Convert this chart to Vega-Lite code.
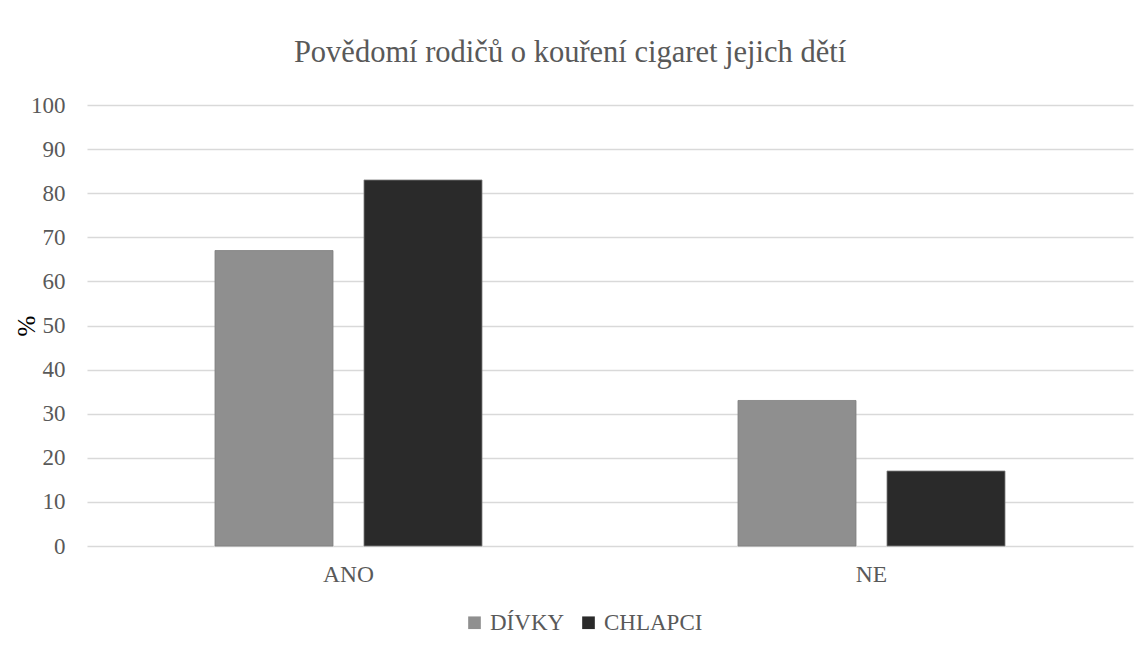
{
  "$schema": "https://vega.github.io/schema/vega-lite/v6.json",
  "autosize": {"type": "none"},
  "padding": {"left": 87, "top": 105, "right": 10, "bottom": 105},
  "width": 1046,
  "height": 441,
  "background": "#ffffff",
  "title": {
    "text": "Povědomí rodičů o kouření cigaret jejich dětí",
    "anchor": "middle",
    "dx": -40,
    "offset": 26,
    "font": "Liberation Serif",
    "fontSize": 30.5,
    "fontWeight": "normal",
    "color": "#595959"
  },
  "data": {
    "values": [
      {"odpoved": "ANO", "pohlavi": "DÍVKY", "procento": 67},
      {"odpoved": "ANO", "pohlavi": "CHLAPCI", "procento": 83},
      {"odpoved": "NE", "pohlavi": "DÍVKY", "procento": 33},
      {"odpoved": "NE", "pohlavi": "CHLAPCI", "procento": 17}
    ]
  },
  "mark": {"type": "bar", "stroke": "#7f7f7f", "strokeWidth": 0.8},
  "encoding": {
    "x": {
      "field": "odpoved",
      "type": "nominal",
      "sort": ["ANO", "NE"],
      "scale": {"paddingInner": 0, "paddingOuter": 0},
      "axis": {
        "title": null,
        "labelAngle": 0,
        "domain": false,
        "ticks": false,
        "labelPadding": 16,
        "labelFont": "Liberation Serif",
        "labelFontSize": 23.5,
        "labelColor": "#595959"
      }
    },
    "xOffset": {
      "field": "pohlavi",
      "type": "nominal",
      "sort": ["DÍVKY", "CHLAPCI"],
      "scale": {"paddingInner": 0.208, "paddingOuter": 0.859}
    },
    "y": {
      "field": "procento",
      "type": "quantitative",
      "scale": {"domain": [0, 100], "nice": false},
      "axis": {
        "title": "%",
        "titleFont": "Liberation Serif",
        "titleFontSize": 25,
        "titleFontWeight": "normal",
        "titleColor": "#000000",
        "titlePadding": -9,
        "values": [0, 10, 20, 30, 40, 50, 60, 70, 80, 90, 100],
        "domain": false,
        "ticks": false,
        "grid": true,
        "gridColor": "#d9d9d9",
        "gridWidth": 1.3,
        "labelPadding": 22,
        "labelFont": "Liberation Serif",
        "labelFontSize": 23,
        "labelColor": "#595959"
      }
    },
    "color": {
      "field": "pohlavi",
      "type": "nominal",
      "sort": ["DÍVKY", "CHLAPCI"],
      "scale": {"domain": ["DÍVKY", "CHLAPCI"], "range": ["#8f8f8f", "#2a2a2a"]},
      "legend": {
        "title": null,
        "orient": "none",
        "direction": "horizontal",
        "legendX": 376,
        "legendY": 506,
        "symbolType": "square",
        "symbolSize": 160,
        "symbolStrokeWidth": 0,
        "labelFont": "Liberation Serif",
        "labelFontSize": 23,
        "labelColor": "#595959",
        "labelOffset": 4,
        "columnPadding": 12
      }
    }
  },
  "config": {
    "view": {"stroke": null}
  }
}
